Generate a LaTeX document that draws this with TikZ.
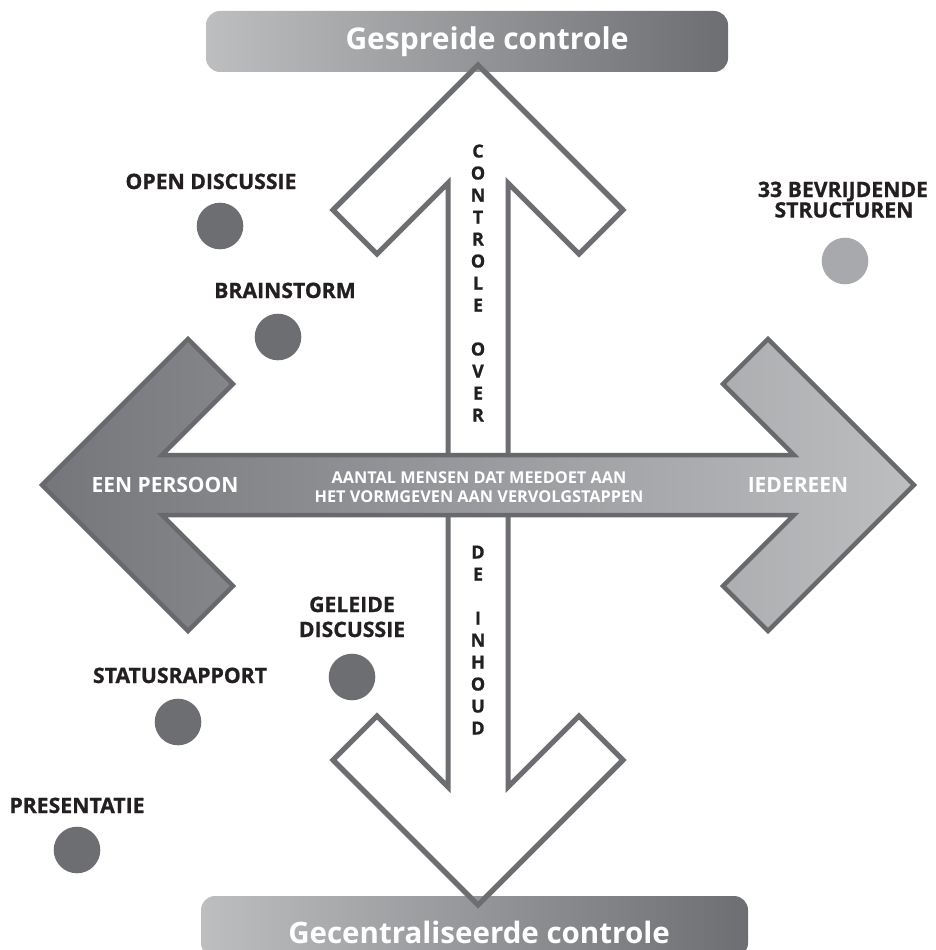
\documentclass[tikz,border=0pt]{standalone}
\usepackage{fontspec}
\setmainfont{Open Sans}
\newfontfamily\heavy{Open Sans}[UprightFont={* Bold}, UprightFeatures={FakeBold=0.9}]
\definecolor{dgray}{HTML}{6D6E71}
\definecolor{lgray}{HTML}{BCBEC0}
\definecolor{cgray}{HTML}{A7A9AC}
\definecolor{hleft}{HTML}{75767A}
\definecolor{hedge}{HTML}{68696C}
\definecolor{ink}{HTML}{231F20}
\tikzset{
  lbl/.style={font=\fontsize{21.2}{24}\selectfont\heavy, text=ink, inner sep=0pt, anchor=base},
  wlbl/.style={font=\fontsize{21}{24}\selectfont\bfseries, text=white, inner sep=0pt, anchor=base},
  mlbl/.style={font=\fontsize{16.3}{18}\selectfont\bfseries, text=white, inner sep=0pt, anchor=base},
  vlet/.style={font=\fontsize{18}{20}\selectfont\heavy, text=ink, inner sep=0pt, anchor=base},
  ttl/.style={font=\fontsize{30}{34}\selectfont\bfseries, text=white, inner sep=0pt, anchor=base},
  dot/.style={circle, fill=dgray, minimum size=46.6pt, inner sep=0pt},
  dotlight/.style={circle, fill=cgray, minimum size=46.6pt, inner sep=0pt},
  vout/.style={draw=dgray, line width=5pt, line join=miter},
  bannerbox/.style={rounded corners=14pt, left color=lgray, right color=dgray, draw=none, inner sep=0pt, minimum height=61pt},
}
\begin{document}
\begin{tikzpicture}[x=1pt,y=-1pt]
\useasboundingbox (0,0) rectangle (935,950);
\clip (0,0) rectangle (935,950);
% vertical double arrow (white)
\path[vout, fill=white] (478,65) -- (623,210) -- (579,254) -- (508,183) -- (508,787) -- (579,716) -- (623,760)
  -- (478,905) -- (333,760) -- (377,716) -- (448,787) -- (448,183) -- (377,254) -- (333,210) -- cycle;
% horizontal double arrow (gradient)
\path[left color=hleft, right color=lgray, draw=hedge, line width=4.5pt, line join=miter]
  (42,485) -- (188,339) -- (233,384) -- (162,455) -- (794,455) -- (723,384) -- (768,339) -- (914,485)
  -- (768,631) -- (723,586) -- (794,515) -- (162,515) -- (233,586) -- (188,631) -- cycle;
% banners
\node[bannerbox, minimum width=522pt] (topbar) at (467,41.5) {};
\node[bannerbox, minimum width=547pt] (botbar) at (474.5,926.5) {};
\draw[vout] (333,210) -- (478,65) -- (623,210);
\draw[vout] (333,760) -- (478,905) -- (623,760);
\node[ttl] (toptxt) at (487,50) {Gespreide controle};
\node[ttl, font=\fontsize{29.5}{34}\selectfont\bfseries] (bottxt) at (479,943) {Gecentraliseerde controle};
% vertical letters
\foreach \l [count=\i from 0] in {C,O,N,T,R,O,L,E,{},O,V,E,R}
  \node[vlet] (vu\i) at (478,{157.5+22*\i}) {\l};
\foreach \l [count=\i from 0] in {D,E,{},I,N,H,O,U,D}
  \node[vlet] (vd\i) at (478,{558.5+22*\i}) {\l};
% horizontal texts
\node[wlbl] (een) at (165,492) {EEN PERSOON};
\node[wlbl] (ied) at (798,492) {IEDEREEN};
\node[mlbl] (mid1) at (479,483) {AANTAL MENSEN DAT MEEDOET AAN};
\node[mlbl] (mid2) at (479,502) {HET VORMGEVEN AAN VERVOLGSTAPPEN};
% dots and labels
\node[lbl] (lopen) at (211,189) {OPEN DISCUSSIE};
\node[dot] (dopen) at (220,226) {};
\node[lbl] (lbrain) at (285,298) {BRAINSTORM};
\node[dot] (dbrain) at (278,337) {};
\node[lbl] (l33a) at (843,197) {33 BEVRIJDENDE};
\node[lbl] (l33b) at (844,217.5) {STRUCTUREN};
\node[dotlight] (d33) at (845,261) {};
\node[lbl] (lgel1) at (352,612) {GELEIDE};
\node[lbl] (lgel2) at (352,637) {DISCUSSIE};
\node[dot] (dgel) at (352,677) {};
\node[lbl] (lstat) at (180,683) {STATUSRAPPORT};
\node[dot] (dstat) at (178,722) {};
\node[lbl] (lpres) at (77,813) {PRESENTATIE};
\node[dot] (dpres) at (77,850) {};
\end{tikzpicture}
\end{document}
